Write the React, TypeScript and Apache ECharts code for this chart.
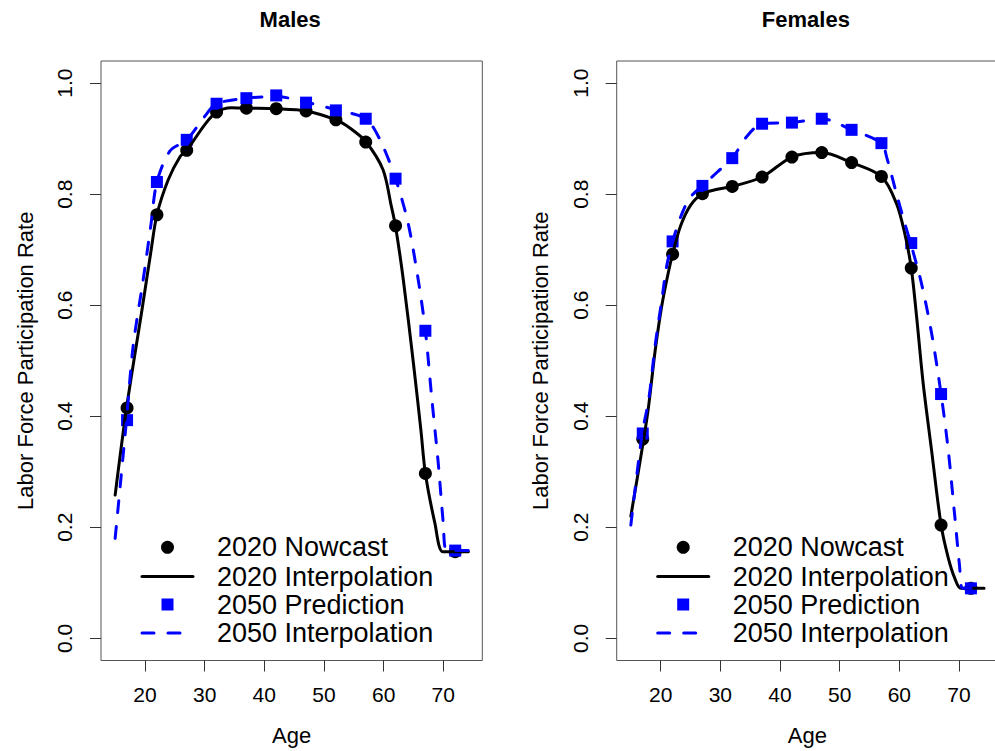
import React, { useEffect, useRef } from 'react';
import * as echarts from 'echarts';

const FONT = '"Liberation Sans", Arial, Helvetica, sans-serif';

// ---- data ----
const panelTitles = ['Males', 'Females'];
const legendLabels = ['2020 Nowcast', '2020 Interpolation', '2050 Prediction', '2050 Interpolation'];
const xTicks = [20, 30, 40, 50, 60, 70];
const yTicks = [0, 0.2, 0.4, 0.6, 0.8, 1.0];

const pointAges = [17, 22, 27, 32, 37, 42, 47, 52, 57, 62, 67, 72];

const maleNowcast2020 = [0.415, 0.763, 0.879, 0.948, 0.955, 0.954, 0.950, 0.934, 0.894, 0.743, 0.297, 0.156];
const malePrediction2050 = [0.393, 0.822, 0.898, 0.963, 0.973, 0.978, 0.965, 0.951, 0.936, 0.828, 0.554, 0.158];
const femaleNowcast2020 = [0.359, 0.692, 0.801, 0.814, 0.831, 0.867, 0.875, 0.857, 0.832, 0.667, 0.204, 0.090];
const femalePrediction2050 = [0.369, 0.715, 0.815, 0.865, 0.927, 0.929, 0.936, 0.916, 0.892, 0.712, 0.440, 0.090];

const maleInterp2020Age = [15, 16.9, 19.5, 21, 22, 23.9, 25.9, 27, 30, 32, 34.5, 37, 42, 47, 52, 54.4, 57, 59.9, 61.3, 62, 63.3, 65, 66.25, 67, 68.6, 69.9, 72, 74.2];
const maleInterp2020Rate = [0.258, 0.414, 0.592, 0.697, 0.763, 0.826, 0.868, 0.879, 0.925, 0.948, 0.956, 0.955, 0.954, 0.950, 0.934, 0.919, 0.895, 0.844, 0.778, 0.742, 0.646, 0.495, 0.375, 0.297, 0.207, 0.156, 0.156, 0.156];

const maleInterp2050Age = [15, 16.9, 18, 19.7, 21, 22, 24.2, 27, 30, 32, 37, 42, 47, 52, 57, 59.4, 62, 64.1, 65.8, 67, 68.05, 69.16, 70, 70.5, 72, 74.2];
const maleInterp2050Rate = [0.180, 0.393, 0.525, 0.646, 0.745, 0.822, 0.878, 0.898, 0.940, 0.963, 0.973, 0.976, 0.966, 0.952, 0.936, 0.898, 0.828, 0.748, 0.646, 0.554, 0.435, 0.315, 0.207, 0.159, 0.158, 0.158];

const femaleInterp2020Age = [15, 17.16, 18, 19.1, 20.2, 21.3, 22, 23.3, 25, 27, 29.5, 32, 37, 42, 47, 52, 57, 59.5, 60.9, 62, 62.9, 64, 65.4, 67, 68.2, 69.3, 70.3, 72, 74.2];
const femaleInterp2020Rate = [0.220, 0.359, 0.420, 0.520, 0.600, 0.660, 0.692, 0.742, 0.780, 0.801, 0.809, 0.814, 0.831, 0.867, 0.875, 0.857, 0.832, 0.784, 0.730, 0.667, 0.579, 0.459, 0.339, 0.204, 0.145, 0.108, 0.090, 0.090, 0.090];

const femaleInterp2050Age = [15, 16.9, 18, 19.1, 20.2, 21, 22, 23.6, 25, 27, 29.5, 32, 34.5, 37, 42, 47, 52, 57, 57.9, 59.5, 60.9, 62, 63.7, 65.4, 67, 68.2, 69.3, 70.1, 70.6, 72, 74.2];
const femaleInterp2050Rate = [0.204, 0.369, 0.430, 0.530, 0.610, 0.670, 0.715, 0.766, 0.795, 0.815, 0.840, 0.865, 0.905, 0.927, 0.929, 0.936, 0.916, 0.892, 0.866, 0.802, 0.748, 0.708, 0.640, 0.550, 0.440, 0.339, 0.219, 0.130, 0.090, 0.090, 0.090];

const X_MIN = 12.63;
const X_MAX = 76.54;
const Y_MIN = -0.04;
const Y_MAX = 1.04;

function pairs(xs: number[], ys: number[]) {
  return xs.map((x, i) => [x, ys[i]]);
}

const BLACK = '#000000';
const BLUE = '#0000ff';

export default function App() {
  const ref = useRef<HTMLDivElement>(null);

  useEffect(() => {
    if (!ref.current) return;
    const chart = echarts.init(ref.current, null, { renderer: 'svg' });

    const panels = [
      { left: 101, nowcast: maleNowcast2020, pred: malePrediction2050, i20a: maleInterp2020Age, i20r: maleInterp2020Rate, i50a: maleInterp2050Age, i50r: maleInterp2050Rate },
      { left: 616.7, nowcast: femaleNowcast2020, pred: femalePrediction2050, i20a: femaleInterp2020Age, i20r: femaleInterp2020Rate, i50a: femaleInterp2050Age, i50r: femaleInterp2050Rate },
    ];
    const GW = 381.3;
    const GT = 61;
    const GH = 599.5;

    const grid = panels.map((p) => ({
      left: p.left,
      top: GT,
      width: GW,
      height: GH,
      show: true,
      borderColor: '#555',
      borderWidth: 1,
      backgroundColor: 'transparent',
      containLabel: false,
      outerBoundsMode: 'none',
    }));

    const xAxis = panels.map((_, i) => ({
      type: 'value',
      gridIndex: i,
      min: X_MIN,
      max: X_MAX,
      axisLine: { show: false, onZero: false },
      splitLine: { show: false },
      axisTick: { show: true, length: 11, customValues: xTicks, lineStyle: { color: '#333', width: 1 } },
      axisLabel: { customValues: xTicks, fontSize: 21, color: '#000', margin: 23, fontFamily: FONT },
      name: 'Age',
      nameLocation: 'middle',
      nameGap: 64,
      nameTextStyle: { fontSize: 22, color: '#000', fontFamily: FONT },
    }));

    const yAxis = panels.map((_, i) => ({
      type: 'value',
      gridIndex: i,
      min: Y_MIN,
      max: Y_MAX,
      axisLine: { show: false, onZero: false },
      splitLine: { show: false },
      axisTick: { show: true, length: 11, customValues: yTicks, lineStyle: { color: '#333', width: 1 } },
      axisLabel: {
        customValues: yTicks,
        fontSize: 21,
        color: '#000',
        margin: 26,
        rotate: 90,
        fontFamily: FONT,
        formatter: (v: number) => v.toFixed(1),
      },
      name: 'Labor Force Participation Rate',
      nameLocation: 'middle',
      nameGap: 65,
      nameRotate: 90,
      nameTextStyle: { fontSize: 22, color: '#000', fontFamily: FONT },
    }));

    const series: any[] = [];
    panels.forEach((p, i) => {
      series.push({
        type: 'scatter', xAxisIndex: i, yAxisIndex: i, name: legendLabels[0],
        data: pairs(pointAges, p.nowcast), symbol: 'circle', symbolSize: 13,
        itemStyle: { color: BLACK, opacity: 1 }, silent: true,
      });
      series.push({
        type: 'line', xAxisIndex: i, yAxisIndex: i, name: legendLabels[1],
        data: pairs(p.i20a, p.i20r), showSymbol: false, smooth: 0.3,
        lineStyle: { color: BLACK, width: 3, cap: 'round', join: 'round' }, silent: true,
      });
      series.push({
        type: 'scatter', xAxisIndex: i, yAxisIndex: i, name: legendLabels[2],
        data: pairs(pointAges, p.pred), symbol: 'rect', symbolSize: 12,
        itemStyle: { color: BLUE, opacity: 1 }, silent: true,
      });
      series.push({
        type: 'line', xAxisIndex: i, yAxisIndex: i, name: legendLabels[3],
        data: pairs(p.i50a, p.i50r), showSymbol: false, smooth: 0.3,
        lineStyle: { color: BLUE, width: 3, type: [12, 14], cap: 'round', join: 'round' }, silent: true,
      });
    });

    const graphic: any[] = [];
    const rowsY = [547.3, 576.5, 604.5, 633];
    panels.forEach((p, i) => {
      const cx = p.left + GW / 2 - 1.5;
      graphic.push({
        type: 'text', x: cx, y: 19, silent: true,
        style: { text: panelTitles[i], font: `bold 22px ${FONT}`, fill: '#000', align: 'center', verticalAlign: 'middle' },
      });
      const mx = p.left + 66.5;
      const lx1 = p.left + 41;
      const lx2 = p.left + 92;
      const tx = p.left + 116;
      graphic.push({ type: 'circle', silent: true, shape: { cx: mx, cy: rowsY[0], r: 6.5 }, style: { fill: BLACK } });
      graphic.push({ type: 'line', silent: true, shape: { x1: lx1, y1: rowsY[1], x2: lx2, y2: rowsY[1] }, style: { stroke: BLACK, lineWidth: 3, lineCap: 'round' } });
      graphic.push({ type: 'rect', silent: true, shape: { x: mx - 6, y: rowsY[2] - 6, width: 12, height: 12 }, style: { fill: BLUE } });
      graphic.push({ type: 'line', silent: true, shape: { x1: lx1, y1: rowsY[3], x2: lx2, y2: rowsY[3] }, style: { stroke: BLUE, lineWidth: 3, lineDash: [12, 14], lineCap: 'round' } });
      legendLabels.forEach((lab, k) => {
        graphic.push({
          type: 'text', x: tx, y: rowsY[k], silent: true,
          style: { text: lab, font: `27px ${FONT}`, fill: '#000', align: 'left', verticalAlign: 'middle' },
        });
      });
    });

    chart.setOption({
      animation: false,
      backgroundColor: '#ffffff',
      textStyle: { fontFamily: FONT },
      grid,
      xAxis,
      yAxis,
      series,
      graphic,
    } as any);

    return () => chart.dispose();
  }, []);

  return (
    <div
      ref={ref}
      style={{ position: 'fixed', left: 0, top: 0, width: 995, height: 751, background: '#fff' }}
    />
  );
}
